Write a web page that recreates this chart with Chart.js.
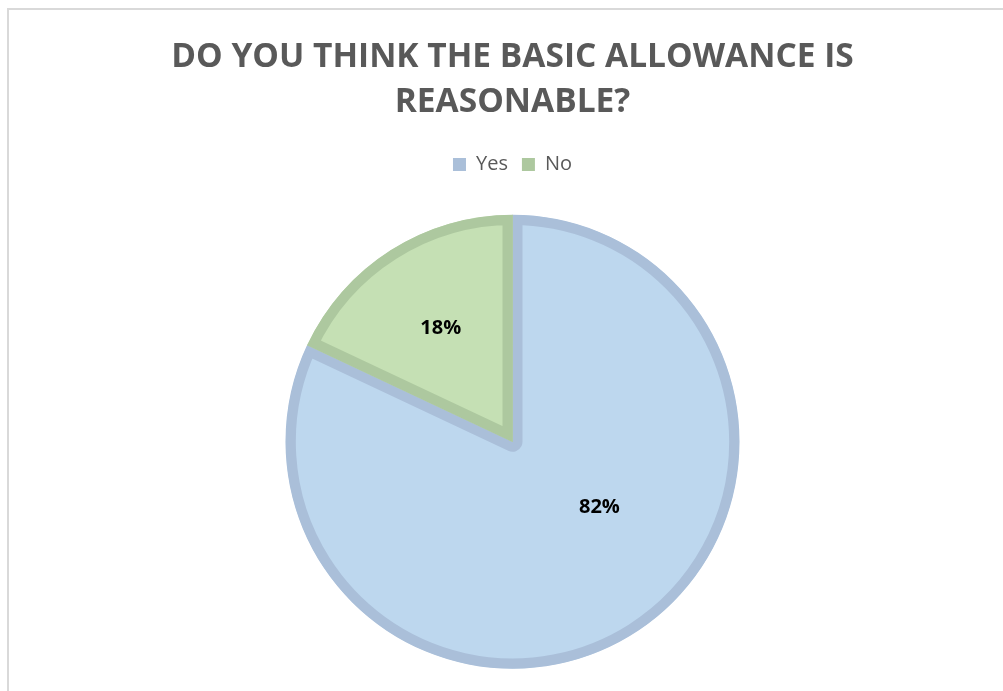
<!DOCTYPE html>
<html>
<head>
<meta charset="utf-8">
<title>Basic allowance survey</title>
<script src="https://cdn.jsdelivr.net/npm/chart.js@4.4.1/dist/chart.umd.min.js"></script>
<style>
  html, body { margin: 0; padding: 0; background: #fff; overflow: hidden; }
  .frame {
    position: absolute; left: 7px; top: 8px;
    width: 1200px; height: 900px;
    border: 2px solid #d9d9d9;
  }
  #pieChart { position: absolute; left: 0; top: 0; }
</style>
</head>
<body>
<div class="frame"></div>
<canvas id="pieChart" width="1003" height="691"></canvas>
<script>
// survey answers, in percent
const answers = ['Yes', 'No'];
const shares = [82, 18];
const titleLines = ['DO YOU THINK THE BASIC ALLOWANCE IS', 'REASONABLE?'];

const fillColors = ['#bdd7ee', '#c5e0b4'];
const edgeColors = ['#aabfd9', '#adc89f'];

// where each percentage sits inside its slice
const labelRadius = [0.48, 0.59];
const labelTurn = [-20.5, 0];

const sliceLabels = {
  id: 'sliceLabels',
  afterDatasetsDraw(chart) {
    const ctx = chart.ctx;
    const meta = chart.getDatasetMeta(0);
    ctx.save();
    ctx.font = 'bold 20px "Open Sans"';
    ctx.fillStyle = '#000';
    ctx.textAlign = 'center';
    ctx.textBaseline = 'middle';
    meta.data.forEach((arc, i) => {
      const p = arc.getProps(['x', 'y', 'startAngle', 'endAngle', 'outerRadius'], true);
      const mid = (p.startAngle + p.endAngle) / 2 + labelTurn[i] * Math.PI / 180;
      const r = p.outerRadius * labelRadius[i];
      ctx.fillText(shares[i] + '%', p.x + Math.cos(mid) * r, p.y + Math.sin(mid) * r);
    });
    ctx.restore();
  }
};

// a bit more room between the legend and the pie
const legendGap = {
  id: 'legendGap',
  beforeInit(chart) {
    const fit = chart.legend.fit;
    chart.legend.fit = function () {
      fit.call(this);
      this.height += 8;
    };
  }
};

const ctx = document.getElementById('pieChart').getContext('2d');

new Chart(ctx, {
  type: 'pie',
  data: {
    labels: answers,
    datasets: [{
      data: shares,
      backgroundColor: fillColors,
      borderColor: edgeColors,
      borderWidth: 10,
      borderAlign: 'inner',
      radius: 227,
    }],
  },
  options: {
    responsive: false,
    animation: false,
    layout: {
      padding: { left: 22, right: 0, top: 0, bottom: -10 },
    },
    plugins: {
      title: {
        display: true,
        text: titleLines,
        color: '#595959',
        font: { family: '"Open Sans"', size: 33.5, weight: 'bold', lineHeight: 1.35 },
        padding: { top: 35, bottom: 15 },
      },
      legend: {
        display: true,
        position: 'top',
        labels: {
          color: '#595959',
          font: { family: '"Open Sans"', size: 20 },
          boxWidth: 13,
          boxHeight: 13,
          padding: 14,
          generateLabels(chart) {
            const items = Chart.overrides.doughnut.plugins.legend.labels.generateLabels(chart);
            items.forEach((item, i) => {
              item.fillStyle = edgeColors[i];
              item.strokeStyle = edgeColors[i];
              item.lineWidth = 0;
            });
            return items;
          },
        },
      },
      tooltip: { enabled: false },
    },
  },
  plugins: [sliceLabels, legendGap],
});
</script>
</body>
</html>
